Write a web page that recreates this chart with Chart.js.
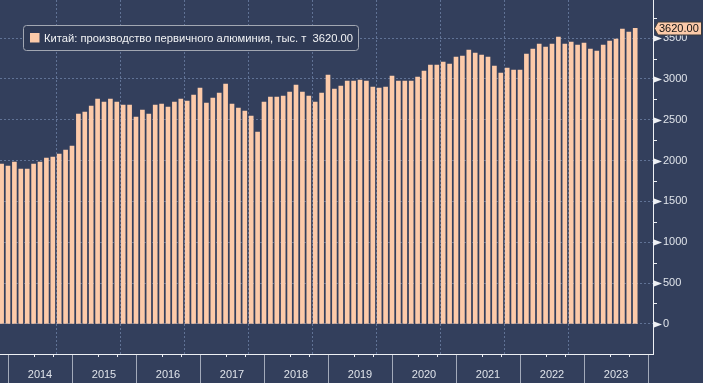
<!DOCTYPE html>
<html><head><meta charset="utf-8">
<script src="https://cdn.jsdelivr.net/npm/chart.js@4.4.0/dist/chart.umd.min.js"></script>
<style>
html,body{margin:0;padding:0;background:#333f5c;overflow:hidden;}
#wrap{width:703px;height:383px;position:relative;}
</style></head><body>
<div id="wrap"><canvas id="c" width="703" height="383"></canvas></div>
<script>
// ---- data ----
const seriesLabel = 'Китай: производство первичного алюминия, тыс. т';
const years = [2014, 2015, 2016, 2017, 2018, 2019, 2020, 2021, 2022, 2023];
const monthsInYear = ['03','04','05','06','07','08','09','10','11','12']; // Jan–Feb reported combined, not shown
const periods = ['2013-12'].concat(
  ...years.map(y => monthsInYear.map(m => y + '-' + m))
).slice(0, 100);
const values = [
  1957,
  1933, 1982, 1896, 1896, 1957, 1982, 2031, 2043, 2080, 2129,
  2178, 2570, 2595, 2668, 2754, 2717, 2754, 2717, 2680, 2680,
  2533, 2619, 2570, 2680, 2693, 2656, 2717, 2754, 2729, 2803,
  2889, 2705, 2766, 2827, 2938, 2693, 2644, 2607, 2545, 2349,
  2717, 2778, 2778, 2790, 2840, 2925, 2840, 2790, 2717, 2827,
  3048, 2876, 2913, 2974, 2974, 2987, 2974, 2901, 2889, 2901,
  3035, 2974, 2974, 2974, 3023, 3097, 3170, 3170, 3207, 3183,
  3268, 3281, 3354, 3317, 3293, 3268, 3158, 3072, 3134, 3109,
  3109, 3305, 3366, 3427, 3391, 3427, 3513, 3427, 3452, 3415,
  3440, 3366, 3342, 3415, 3464, 3489, 3611, 3575, 3620
];
const yMajorStep = 500;
const yMinorStep = 250;

// ---- styles ----
const BG = '#333f5c';
const BAR = '#fccaa9';
const GRID = 'rgba(112,132,168,0.75)';
const AXIS = '#eef0f4';
const LABEL = '#dfe3ea';
const FONT = '"Liberation Sans", Arial, sans-serif';

const firstIdx = -periods.indexOf('2014-03');
const points = values.map((v, i) => ({x: i + firstIdx, y: v}));
const perYear = monthsInYear.length;

function noPad(s) { s.paddingTop = 0; s.paddingBottom = 0; s.paddingLeft = 0; s.paddingRight = 0; }

const deco = {
  id: 'deco',
  beforeDraw(chart) {
    const c = chart.ctx;
    c.save(); c.fillStyle = BG; c.fillRect(0, 0, chart.width, chart.height); c.restore();
  },
  afterDraw(chart) {
    const {ctx: c, chartArea: a, scales: {x, y}} = chart;
    c.save();
    c.strokeStyle = '#a3aaba'; c.lineWidth = 1;
    for (let n = 0; n <= years.length; n++) {
      const px = Math.round(x.getPixelForValue(n * perYear)) + 0.5;
      c.beginPath(); c.moveTo(px, a.bottom + 1); c.lineTo(px, chart.height); c.stroke();
    }
    c.strokeStyle = AXIS;
    years.forEach((yr, n) => {
      [4, 7].forEach(o => {
        const px = Math.round(x.getPixelForValue(n * perYear + o)) + 0.5;
        c.beginPath(); c.moveTo(px, a.bottom); c.lineTo(px, a.bottom + 3); c.stroke();
      });
    });
    c.fillStyle = AXIS;
    y.ticks.forEach(t => {
      const py = Math.round(y.getPixelForValue(t.value));
      if (t.value % yMajorStep === 0) {
        c.beginPath(); c.moveTo(a.right + 1, py - 2.5); c.lineTo(a.right + 9, py + 0.5); c.lineTo(a.right + 1, py + 3.5); c.closePath(); c.fill();
      } else if (t.value % yMinorStep === 0) {
        c.beginPath(); c.moveTo(a.right, py + 0.5); c.lineTo(a.right + 4, py + 0.5); c.stroke();
      }
    });
    const last = values[values.length - 1];
    const fy = Math.round(y.getPixelForValue(last)) + 0.5;
    const x0 = a.right + 1.5, x1 = a.right + 5, x2 = chart.width - 1.5, h = 6.5;
    c.beginPath();
    c.moveTo(x0, fy);
    c.lineTo(x1, fy - h); c.lineTo(x2, fy - h); c.lineTo(x2, fy + h); c.lineTo(x1, fy + h); c.closePath();
    c.fillStyle = BAR; c.fill();
    c.strokeStyle = '#3a3a3a'; c.lineWidth = 1; c.stroke();
    c.fillStyle = '#111'; c.font = '11px ' + FONT; c.textBaseline = 'middle'; c.textAlign = 'left';
    c.fillText(last.toFixed(2), x1 + 1, fy + 0.5);
    const lx = 23.5, ly = 25.5, lw = 335, lh = 25, r = 3;
    c.beginPath();
    c.moveTo(lx + r, ly); c.lineTo(lx + lw - r, ly); c.quadraticCurveTo(lx + lw, ly, lx + lw, ly + r);
    c.lineTo(lx + lw, ly + lh - r); c.quadraticCurveTo(lx + lw, ly + lh, lx + lw - r, ly + lh);
    c.lineTo(lx + r, ly + lh); c.quadraticCurveTo(lx, ly + lh, lx, ly + lh - r);
    c.lineTo(lx, ly + r); c.quadraticCurveTo(lx, ly, lx + r, ly); c.closePath();
    c.fillStyle = '#2f3a55'; c.fill();
    c.strokeStyle = '#a2a7b2'; c.stroke();
    c.fillStyle = BAR; c.fillRect(30, 33, 9.5, 9.5);
    c.fillStyle = '#f2f3f5'; c.font = '11.2px ' + FONT; c.textBaseline = 'middle';
    c.fillText(seriesLabel + '  ' + last.toFixed(2), 44, 38.5);
    c.restore();
  }
};

new Chart(document.getElementById('c'), {
  type: 'bar',
  data: {
    labels: periods,
    datasets: [{
      label: seriesLabel,
      data: points,
      backgroundColor: BAR,
      borderWidth: 0,
      barThickness: 4
    }]
  },
  options: {
    responsive: false,
    animation: false,
    events: [],
    layout: {padding: 0, autoPadding: false},
    plugins: {legend: {display: false}, tooltip: {enabled: false}},
    scales: {
      x: {
        type: 'linear',
        min: -1.25, max: 100.78,
        offset: false,
        afterFit(s) { s.height = 29; noPad(s); },
        ticks: {
          stepSize: 5, maxTicksLimit: 1000, autoSkip: false, maxRotation: 0, padding: 14,
          color: LABEL, font: {family: FONT, size: 11},
          callback: v => (v % perYear === 5 ? String(years[(v - 5) / perYear]) : '')
        },
        grid: {
          drawTicks: false,
          color: ctx => (ctx.tick && ctx.tick.value % perYear === 0 ? GRID : 'transparent')
        },
        border: {color: AXIS, width: 1, dash: [2, 2]}
      },
      y: {
        position: 'right',
        min: -370, max: 3968,
        afterFit(s) { s.width = 50; noPad(s); },
        ticks: {
          stepSize: yMinorStep, maxTicksLimit: 1000, padding: 10,
          color: LABEL, font: {family: FONT, size: 11},
          callback: v => (v % yMajorStep === 0 ? String(v) : '')
        },
        grid: {
          drawTicks: false,
          color: ctx => (ctx.tick && ctx.tick.value % yMajorStep === 0 && ctx.tick.value >= 0 ? GRID : 'transparent')
        },
        border: {color: AXIS, width: 1, dash: [2, 2]}
      }
    }
  },
  plugins: [deco]
});
</script>
</body></html>
